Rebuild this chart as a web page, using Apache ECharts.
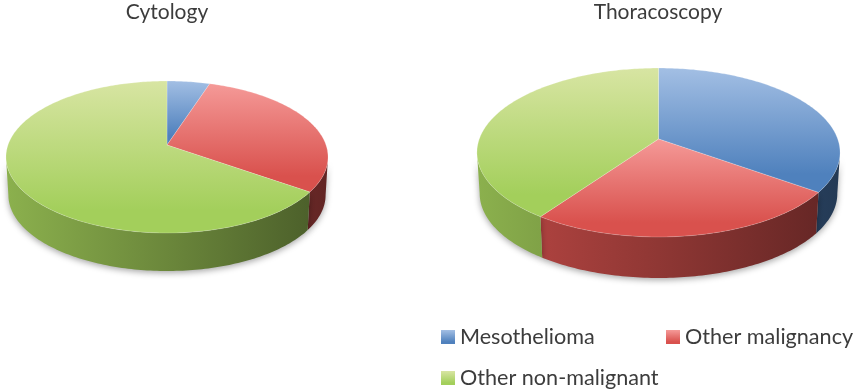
<!DOCTYPE html>
<html>
<head>
<meta charset="utf-8">
<style>
  html, body { margin: 0; padding: 0; background: #fff; }
  #chart { width: 855px; height: 392px; }
</style>
<script src="https://cdn.jsdelivr.net/npm/echarts@6/dist/echarts.min.js"></script>
</head>
<body>
<div id="chart"></div>
<script>
const categories = ['Mesothelioma', 'Other malignancy', 'Other non-malignant']
const pieNames = ['Cytology', 'Thoracoscopy']
const cytologyValues = [5, 29.8, 65.2]
const thoracoscopyValues = [35, 24.7, 40.3]

const fontFamily = 'Lato, "Open Sans", sans-serif'
const textColor = '#3c3c3c'
const topColors = [['#a3bfe4', '#4f81bd'], ['#f59a98', '#d9514d'], ['#d8e5a3', '#a3cf5b']]
const baseColors = [[79, 129, 189], [217, 83, 79], [162, 205, 90]]

// p is the perspective factor, k and K the half axes of the tilted disc
const pieLayouts = [
  {cx: 167, cy: 145, K: 159, k: 74.1, p: 0.158, depth: 38},
  {cx: 658.5, cy: 139, K: 179.2, k: 82.3, p: 0.16, depth: 41}
]

const arcPoint = (pie, deg) => {
  const a = deg * Math.PI / 180
  const u = Math.sin(a)
  const v = -Math.cos(a)
  const w = 1 - pie.p * v
  return [pie.cx + pie.K * u / w, pie.cy + pie.k * v / w]
}

const arcPoints = (pie, from, to) => {
  const result = []
  const steps = Math.max(2, Math.ceil(to - from))
  for (let i = 0; i <= steps; i++) {
    result.push(arcPoint(pie, from + (to - from) * i / steps))
  }
  return result
}

const shade = (rgb, f) => `rgb(${rgb.map(c => Math.round(c * f)).join(',')})`

const topGradient = (catIndex) => (
  new echarts.graphic.LinearGradient(0, 0, 0, 1, [
    {offset: 0, color: topColors[catIndex][0]},
    {offset: 0.85, color: topColors[catIndex][1]},
    {offset: 1, color: topColors[catIndex][1]}
  ])
)

// rows are [pie index, start angle, end angle]
const getRows = (catIndex) => (
  [cytologyValues, thoracoscopyValues].map((values, pieIndex) => {
    const total = values.reduce((a, b) => a + b, 0)
    const before = values.slice(0, catIndex).reduce((a, b) => a + b, 0)
    return [pieIndex, before / total * 360, (before + values[catIndex]) / total * 360]
  })
)

const renderTop = (catIndex) => (params, api) => {
  const pie = pieLayouts[api.value(0)]
  return {
    type: 'polygon',
    shape: {points: [[pie.cx, pie.cy], ...arcPoints(pie, api.value(1), api.value(2))]},
    style: {
      fill: topGradient(catIndex),
      stroke: 'rgba(255,255,255,0.2)',
      lineWidth: 1
    }
  }
}

const renderSide = (catIndex) => (params, api) => {
  const pie = pieLayouts[api.value(0)]
  // only the front of the wall can be seen
  const edge = Math.asin(pie.p) * 180 / Math.PI
  const from = Math.max(api.value(1), 90 + edge)
  const to = Math.min(api.value(2), 270 - edge)
  if (from >= to) {
    return {type: 'group', children: []}
  }
  const upper = arcPoints(pie, from, to)
  const lower = upper.map(([x, y]) => [pie.cx + (x - pie.cx) * 0.985, y + pie.depth]).reverse()
  const left = pie.cx - pie.K
  const right = pie.cx + pie.K
  return {
    type: 'polygon',
    shape: {points: [...upper, ...lower]},
    style: {
      fill: new echarts.graphic.LinearGradient(left, 0, right, 0, [
        {offset: 0, color: shade(baseColors[catIndex], 0.86)},
        {offset: 0.5, color: shade(baseColors[catIndex], 0.66)},
        {offset: 1, color: shade(baseColors[catIndex], 0.45)}
      ], true),
      shadowBlur: 6,
      shadowColor: 'rgba(0,0,0,0.35)',
      shadowOffsetY: 2
    }
  }
}

const getSeries = () => (
  categories.flatMap((name, catIndex) => {
    const common = {name, type: 'custom', coordinateSystem: 'none', data: getRows(catIndex), animation: false, silent: true}
    return [
      {...common, z: 2, renderItem: renderSide(catIndex)},
      {...common, z: 3, renderItem: renderTop(catIndex)}
    ]
  })
)

const getLegend = (catIndex, left, top) => ({
  data: [categories[catIndex]],
  left,
  top,
  padding: 0,
  icon: 'rect',
  itemWidth: 14,
  itemHeight: 14,
  itemGap: 0,
  selectedMode: false,
  itemStyle: {color: topGradient(catIndex)},
  textStyle: {fontFamily, fontSize: 21.6, color: textColor, padding: 0}
})

const chart = echarts.init(document.getElementById('chart'))
chart.setOption({
  backgroundColor: '#fff',
  title: pieNames.map((text, i) => ({
    text,
    left: [167, 658][i],
    top: 2,
    textAlign: 'center',
    padding: 0,
    textStyle: {fontFamily, fontSize: 21, fontWeight: 'normal', color: textColor}
  })),
  legend: [
    getLegend(0, 441, 326),
    getLegend(1, 666, 326),
    getLegend(2, 441, 367)
  ],
  series: getSeries()
})
</script>
</body>
</html>
